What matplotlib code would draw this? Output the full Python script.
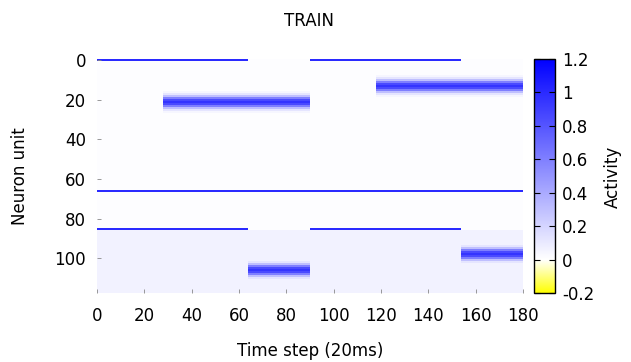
import numpy as np
import matplotlib
matplotlib.use("Agg")
import matplotlib.pyplot as plt
from matplotlib.colors import LinearSegmentedColormap

plt.rcParams['font.family'] = ['DejaVu Sans']
plt.rcParams['axes.unicode_minus'] = False

# data
n_steps = 180
n_units = 118
background = 0.005        # noisy rows average out near zero
lower_baseline = 0.06     # flat lavender block under row 85
lower_start = 86

# always-on unit
bias_row = 66
bias_value = 1.0

# units that are on in two windows (start, end)
context_rows = [0, 85]
context_windows = [(0, 64), (90, 154)]
context_value = 1.0

# blobs: centre row, start step, end step
blob_rows = [21, 13, 106, 98]
blob_starts = [28, 118, 64, 154]
blob_ends = [90, 180, 90, 180]
blob_offsets = [-5, -4, -3, -2, -1, 0, 1, 2, 3, 4, 5]
blob_profile = [0.04, 0.12, 0.3, 0.6, 0.85, 0.95, 0.85, 0.6, 0.3, 0.12, 0.04]

x_ticks = [0, 20, 40, 60, 80, 100, 120, 140, 160, 180]
y_ticks = [0, 20, 40, 60, 80, 100]
cb_ticks = [-0.2, 0, 0.2, 0.4, 0.6, 0.8, 1, 1.2]
cb_labels = ['-0.2', '0', '0.2', '0.4', '0.6', '0.8', '1', '1.2']

# build the activity matrix
act = np.full((n_units, n_steps), background)
act[lower_start:, :] = lower_baseline
act[bias_row, :] = bias_value
for r in context_rows:
    for s, e in context_windows:
        act[r, s:e] = context_value
for r, s, e in zip(blob_rows, blob_starts, blob_ends):
    for off, v in zip(blob_offsets, blob_profile):
        base = act[r + off, s:e]
        act[r + off, s:e] = np.maximum(base, v)

cmap = LinearSegmentedColormap.from_list(
    'yb', [(0.0, '#ffff00'), (0.2 / 1.4, '#ffffff'), (1.0, '#0000ff')], N=1400)

fig = plt.figure(figsize=(6.31, 3.62), dpi=100)
ax = fig.add_axes([97 / 631, 1 - 293 / 362, 426 / 631, 234 / 362])
im = ax.imshow(act, cmap=cmap, vmin=-0.2, vmax=1.2, aspect='auto',
               interpolation='nearest',
               extent=(0, n_steps, n_units - 0.5, -0.5))
ax.set_xlim(0, n_steps)
ax.set_ylim(n_units - 0.5, -0.5)
ax.set_xticks(x_ticks)
ax.set_yticks(y_ticks)
for sp in ax.spines.values():
    sp.set_visible(False)
ax.tick_params(direction='in', length=3, width=0.6, color='#888888',
               labelsize=12, pad=8)
ax.tick_params(axis='x', pad=10)

cax = fig.add_axes([534 / 631, 1 - 293 / 362, 21 / 631, 234 / 362])
cb = fig.colorbar(im, cax=cax, ticks=cb_ticks)
cb.ax.set_yticklabels(cb_labels)
cb.outline.set_linewidth(1.0)
cb.outline.set_edgecolor('black')
cb.ax.tick_params(direction='in', length=4, width=0.8, left=True, right=True,
                  labelsize=12, pad=5)

fig.text(309 / 631, 1 - 21 / 362, 'TRAIN', ha='center', va='center', fontsize=12)
fig.text(310 / 631, 1 - 351 / 362, 'Time step (20ms)', ha='center', va='center',
         fontsize=12)
fig.text(20 / 631, 1 - 176 / 362, 'Neuron unit', ha='center', va='center',
         rotation=90, fontsize=12)
fig.text(613 / 631, 1 - 177 / 362, 'Activity', ha='center', va='center',
         rotation=90, fontsize=12)

fig.savefig('out.png', dpi=100)
